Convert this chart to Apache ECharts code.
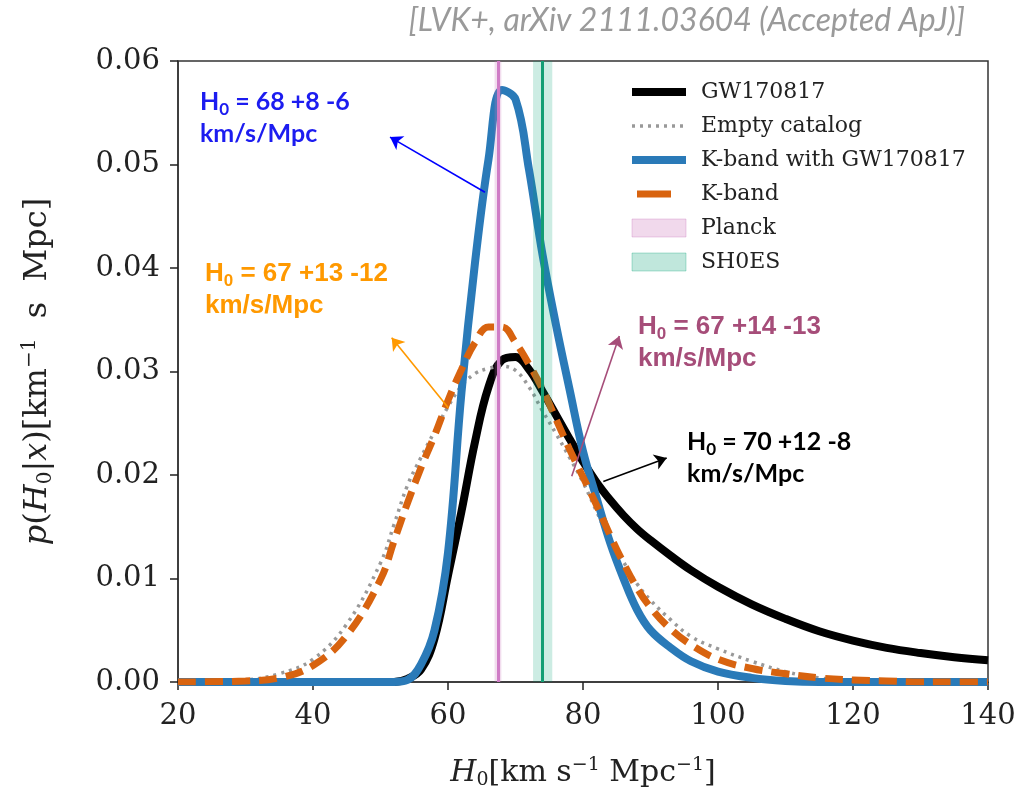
<!DOCTYPE html>
<html><head><meta charset="utf-8">
<script src="https://cdn.jsdelivr.net/npm/echarts@6/dist/echarts.min.js"></script>
<style>html,body{margin:0;padding:0;background:#fff}#c{width:1019px;height:799px}</style>
</head><body><div id="c"></div>
<script>
// ---- data ----
const h0Grid       = [20, 30, 35, 40, 45, 50, 52, 54, 56, 58, 60, 62, 64, 66, 68, 70, 72, 74, 76, 78, 80, 82, 84, 86, 88, 90, 93, 96, 100, 105, 110, 115, 120, 125, 130, 135, 140];
const gw170817     = [0, 0, 0, 0, 0, 0, 0, 0.0003, 0.0012, 0.0042, 0.0103, 0.0165, 0.0232, 0.0285, 0.0311, 0.0314, 0.0302, 0.0281, 0.0258, 0.0235, 0.0213, 0.0193, 0.0176, 0.0161, 0.0148, 0.0137, 0.0122, 0.0108, 0.0092, 0.0075, 0.0061, 0.0049, 0.004, 0.0033, 0.0028, 0.0024, 0.0021];
const emptyCatalog = [0, 0.0002, 0.0008, 0.0022, 0.0056, 0.0115, 0.0152, 0.019, 0.0217, 0.0242, 0.0266, 0.0286, 0.0298, 0.0303, 0.0305, 0.0301, 0.0285, 0.0262, 0.024, 0.0217, 0.0193, 0.0165, 0.0137, 0.0116, 0.0095, 0.0079, 0.006, 0.0044, 0.0032, 0.002, 0.001, 0.0004, 0.0002, 0.0001, 0, 0, 0];
const kbandWithGW  = [0, 0, 0, 0, 0, 0, 0, 0.0002, 0.0017, 0.005, 0.0125, 0.028, 0.0405, 0.0505, 0.0572, 0.0563, 0.0495, 0.0413, 0.0345, 0.0283, 0.0223, 0.0178, 0.0135, 0.01, 0.007, 0.005, 0.0033, 0.002, 0.001, 0.0004, 0.0001, 0, 0, 0, 0, 0, 0];
const kband        = [0, 0.0001, 0.0004, 0.0016, 0.0045, 0.0099, 0.0136, 0.0173, 0.0207, 0.0238, 0.0272, 0.0302, 0.0328, 0.0343, 0.0343, 0.0328, 0.0307, 0.0283, 0.0254, 0.0225, 0.0198, 0.0171, 0.0142, 0.0115, 0.0091, 0.0072, 0.0051, 0.0036, 0.0022, 0.0013, 0.0008, 0.0004, 0.0002, 0.0001, 0, 0, 0];
const planckBand   = [66.9, 67.4, 67.9];     // [low, centre, high]
const sh0esBand    = [72.6, 74.03, 75.45];   // [low, centre, high]
const seriesNames  = ['GW170817', 'Empty catalog', 'K-band with GW170817', 'K-band', 'Planck', 'SH0ES'];
const annotValues  = ['68 +8 -6', '67 +13 -12', '67 +14 -13', '70 +12 -8'];
const annotAnchor  = [[23.26, 0.05763], [24.0, 0.04098], [88.15, 0.0359], [95.41, 0.02473]];
const arrowFrom    = [[65.48, 0.04732], [60.04, 0.02649], [78.33, 0.01987], [83.01, 0.01938]];
const arrowTo      = [[51.41, 0.05265], [51.66, 0.03326], [85.38, 0.03342], [92.4, 0.02165]];

const pairs = ys => h0Grid.map((x, i) => [x, ys[i]]);
const annotColors = ['#1c1cf0', '#ff9900', '#a64d79', '#000000'];
const annotFonts  = ['Lato', 'Liberation Sans', 'Liberation Sans', 'Lato'];
const arrowColors = ['#0000ff', '#ff9900', '#a64d79', '#000000'];
const orange = '#d8630f';

const serif = 'DejaVu Serif';
const chart = echarts.init(document.getElementById('c'), null, {renderer: 'canvas'});

const lineSeries = (name, ys, color, width, type, z) => ({
  name, type: 'line', data: pairs(ys), smooth: 0.4,
  symbol: 'none', showSymbol: false, clip: true, z,
  lineStyle: {color, width, type, cap: 'butt'}, itemStyle: {color},
  emphasis: {disabled: true}
});

const bandSeries = (name, band, fill, lineColor) => ({
  name, type: 'line', data: [], symbol: 'none', itemStyle: {color: fill}, z: 6,
  markArea: {silent: true, z: 3, itemStyle: {color: fill}, label: {show: false},
    data: [[{xAxis: band[0]}, {xAxis: band[2]}]]},
  markLine: {silent: true, z: 6, symbol: 'none', label: {show: false},
    lineStyle: {color: lineColor, width: 3, type: 'solid'}, emphasis: {disabled: true},
    data: [{xAxis: band[1]}]}
});

const mkRich = (fs, sfs) => ({
  i: {fontFamily: serif, fontStyle: 'italic', fontSize: fs, lineHeight: fs + 4, color: '#222'},
  s: {fontFamily: serif, fontSize: sfs, lineHeight: 12, verticalAlign: 'bottom', color: '#222'},
  p: {fontFamily: serif, fontSize: sfs, lineHeight: 16, verticalAlign: 'top', color: '#222'}
});

const hideSym = {opacity: 0};
const option = {
  animation: false,
  backgroundColor: '#fff',
  grid: {left: 178, right: 31, top: 61, bottom: 117, show: true, borderColor: '#333', borderWidth: 1.5, backgroundColor: 'transparent'},
  xAxis: {
    type: 'value', min: 20, max: 140, interval: 20,
    axisLine: {show: true, onZero: false, lineStyle: {color: '#333', width: 1.5}},
    axisTick: {show: true, inside: false, length: 8, lineStyle: {color: '#222', width: 1.5}},
    splitLine: {show: false},
    axisLabel: {fontFamily: serif, fontSize: 29, color: '#222', margin: 20},
    name: '{i|H}{s|0}[km s{p|−1} Mpc{p|−1}]', nameLocation: 'middle', nameGap: 74,
    nameTextStyle: {fontFamily: serif, fontSize: 30, color: '#222', rich: mkRich(30, 19)}
  },
  yAxis: {
    type: 'value', min: 0, max: 0.06, interval: 0.01,
    axisLine: {show: true, lineStyle: {color: '#333', width: 1.5}},
    axisTick: {show: true, inside: false, length: 8, lineStyle: {color: '#222', width: 1.5}},
    splitLine: {show: false},
    axisLabel: {fontFamily: serif, fontSize: 29, color: '#222', margin: 18, formatter: v => v.toFixed(2)},
    name: '{i|p}({i|H}{s|0}|{i|x})[km{p|−1}  s  Mpc]', nameLocation: 'middle', nameGap: 122, nameRotate: 90,
    nameTextStyle: {fontFamily: serif, fontSize: 32, color: '#222', rich: mkRich(32, 20)}
  },
  legend: {
    orient: 'vertical', left: 628, top: 81, padding: 0, itemWidth: 54, itemHeight: 18, itemGap: 12,
    selectedMode: false,
    lineStyle: {width: 'inherit'},
    textStyle: {fontFamily: serif, fontSize: 22, color: '#222', lineHeight: 18, padding: [0, 0, 0, 10]},
    data: [
      {name: seriesNames[0], itemStyle: hideSym},
      {name: seriesNames[1], itemStyle: hideSym},
      {name: seriesNames[2], itemStyle: hideSym},
      {name: seriesNames[3], icon: 'path://M0,0M54,18M5,5.5L39,5.5L39,12.5L5,12.5Z', itemStyle: {color: orange, opacity: 1, borderWidth: 0}},
      {name: seriesNames[4], icon: 'rect', itemStyle: {color: 'rgba(204,120,188,0.28)', borderColor: 'rgba(204,120,188,0.35)', borderWidth: 1, opacity: 1}},
      {name: seriesNames[5], icon: 'rect', itemStyle: {color: 'rgba(2,158,115,0.25)', borderColor: 'rgba(2,158,115,0.3)', borderWidth: 1, opacity: 1}}
    ]
  },
  series: [
    lineSeries(seriesNames[0], gw170817, '#000000', 8, 'solid', 2),
    lineSeries(seriesNames[1], emptyCatalog, '#999999', 3.5, [3, 5], 2),
    lineSeries(seriesNames[2], kbandWithGW, '#2a7ab8', 8, 'solid', 2),
    lineSeries(seriesNames[3], kband, orange, 7, [18, 9], 2),
    bandSeries(seriesNames[4], planckBand, 'rgba(204,120,188,0.25)', '#cf7cc6'),
    bandSeries(seriesNames[5], sh0esBand, 'rgba(2,158,115,0.2)', '#129e74'),
    {
      name: 'arrows', type: 'line', data: [], symbol: 'none', z: 7,
      markLine: {
        silent: true, z: 7, label: {show: false}, emphasis: {disabled: true},
        symbol: ['none', 'arrow'], symbolSize: 12,
        data: arrowFrom.map((f, i) => [
          {coord: f, lineStyle: {color: arrowColors[i], width: 1.6, type: 'solid'}},
          {coord: arrowTo[i], lineStyle: {color: arrowColors[i], width: 1.6, type: 'solid'}, itemStyle: {color: arrowColors[i]}}
        ])
      }
    }
  ]
};
chart.setOption(option);

// annotation texts, anchored in data coordinates
const graphics = annotValues.map((val, i) => {
  const p = chart.convertToPixel({gridIndex: 0}, annotAnchor[i]);
  const fam = annotFonts[i], col = annotColors[i];
  const fs = fam === 'Lato' ? 25 : 26;
  return {
    type: 'text', x: p[0], y: p[1], z: 20,
    style: {
      text: '{m|H}{s|0}{m| = ' + val + '}\n{m|km/s/Mpc}',
      align: 'left', verticalAlign: 'top',
      rich: {
        m: {fontFamily: fam, fontWeight: 'bold', fontSize: fs, lineHeight: 32, fill: col, color: col},
        s: {fontFamily: fam, fontWeight: 'bold', fontSize: 17, lineHeight: 12, verticalAlign: 'bottom', fill: col, color: col}
      }
    }
  };
});
graphics.push({
  type: 'text', right: 54, top: 5, z: 20,
  style: {text: '[LVK+, arXiv 2111.03604 (Accepted ApJ)]', fontFamily: 'Lato', fontStyle: 'italic',
          fontSize: 32, fill: '#9a9a9a'}
});
chart.setOption({graphic: graphics});
</script>
</body></html>
